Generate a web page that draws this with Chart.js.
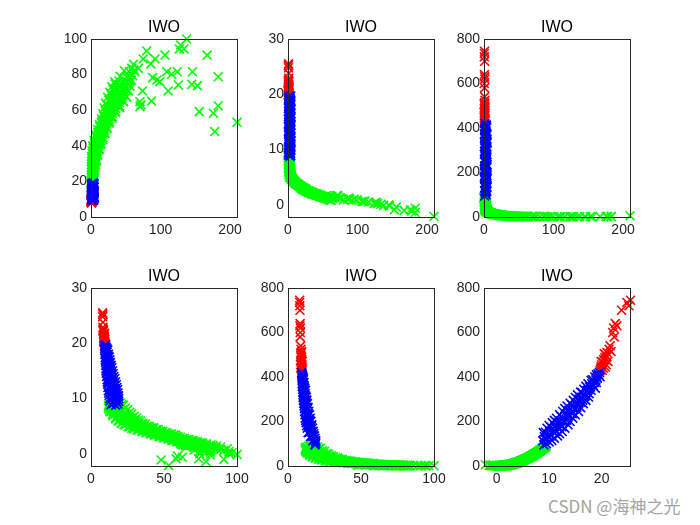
<!DOCTYPE html>
<html>
<head>
<meta charset="utf-8">
<script src="https://cdn.jsdelivr.net/npm/chart.js@4.4.1/dist/chart.umd.min.js"></script>
<style>
  body { margin: 0; background: #fff; }
  #page { position: relative; width: 700px; height: 525px; overflow: hidden; background: #fff; }
  #page canvas { position: absolute; }
  #mark { position: absolute; left: 548px; top: 493px; font-size: 17px; font-family: "Noto Sans CJK SC", sans-serif; color: #a3a3a3; white-space: nowrap; }
</style>
</head>
<body>
<div id="page">
  <div id="mark">CSDN @海神之光</div>
</div>
<script>
// four variables per sample, one set of arrays per cluster colour
// v1: 0..210, v2: 0..100, v3: -2..26, v4: 0..750

var redV1 = [0.8, 0.5, 1.0, 0.6, 1.2, 0.4, 0.9, 1.4, 0.7, 1.1, 0.5, 1.3, 0.8, 1.0, 0.6, 1.2, 0.9,
             0.6, 1.0, 1.3, 0.4, 0.9, 1.1, 0.7, 1.2, 0.5, 0.8, 1.0, 0.6];
var redV2 = [8.0, 8.1, 8.2, 8.3, 8.5, 8.4, 8.7, 8.9, 9.0, 8.8, 9.2, 9.3, 9.1, 9.5, 9.4, 9.7, 9.6,
             8.6, 9.0, 9.4, 8.9, 9.3, 8.6, 9.8, 9.2, 9.5, 8.3, 8.2, 8.0];
var redV3 = [25.5, 25.2, 23.8, 22.6, 22.3, 22.1, 21.6, 21.4, 21.0, 20.8, 20.6, 20.4, 20.2, 20.0, 19.9, 19.8, 19.7,
             20.9, 21.2, 20.1, 20.5, 21.8, 20.3, 19.9, 21.0, 20.7, 22.4, 22.9, 24.8];
var redV4 = [745, 720, 700, 640, 620, 600, 540, 525, 510, 498, 488, 478, 466, 455, 446, 437, 428,
             455, 470, 430, 505, 515, 440, 470, 490, 445, 580, 630, 735];

var blueV1 = [
  1.2, 3.1, 2.0, 4.0, 0.8,
  2.6, 1.0, 3.7, 1.9, 4.3,
  0.7, 2.8, 4.1, 1.6, 3.3,
  3.5, 1.3, 2.4, 0.9, 4.2,
  2.2, 4.0, 0.6, 3.0, 1.7,
  1.1, 3.4, 2.5, 4.4, 0.8,
  3.9, 1.5, 2.9, 0.7, 3.6,
  2.1, 4.2, 1.2, 3.2, 2.6,
  0.9, 3.0, 4.3, 1.8, 3.7,
  2.7, 0.6, 3.5, 2.0, 4.1,
  1.4, 3.8, 2.3, 0.9, 3.1,
  4.0, 1.7, 2.9, 0.8,
  3.6, 1.5, 2.9, 0.9,
  2.3, 4.1, 1.2, 3.0,
  1.8, 3.8, 0.7, 2.6,
  4.3, 2.0, 3.3, 1.0,
  1.3, 3.6, 2.2, 4.0,
  2.8, 0.8, 3.9, 1.9,
  3.4, 1.1, 2.5, 4.2,
  1.6, 3.7, 0.9, 2.9,
  2.4, 4.0, 1.3, 3.3,
  0.7, 2.6, 4.3, 1.9
];
var blueV2 = [
  9.3, 9.6, 9.9, 10.2, 10.5,
  9.5, 10.0, 10.5, 11.0, 11.5,
  9.7, 10.4, 11.1, 11.8, 12.5,
  10.0, 10.8, 11.7, 12.5, 13.3,
  10.2, 11.2, 12.2, 13.2, 14.2,
  10.5, 11.7, 12.9, 14.0, 15.2,
  11.0, 12.3, 13.7, 15.0, 16.3,
  11.4, 12.9, 14.4, 15.8, 17.3,
  11.8, 13.4, 15.0, 16.6, 18.2,
  12.4, 14.0, 15.7, 17.3, 18.9,
  13.2, 14.7, 16.1, 17.6, 19.0,
  13.8, 15.4, 17.0, 18.5,
  9.4, 9.9, 10.5, 11.0,
  9.6, 10.4, 11.2, 12.0,
  9.8, 10.8, 11.9, 12.9,
  10.1, 11.3, 12.6, 13.8,
  10.3, 11.8, 13.2, 14.7,
  10.7, 12.4, 14.0, 15.7,
  11.2, 13.1, 14.9, 16.8,
  11.6, 13.6, 15.7, 17.7,
  12.1, 14.2, 16.4, 18.5,
  12.8, 14.9, 17.0, 19.0
];
var blueV3 = [
  19.6, 19.3, 19.5, 19.7, 19.2,
  18.7, 18.3, 18.6, 18.4, 18.8,
  17.4, 17.7, 17.3, 17.6, 17.5,
  16.6, 16.3, 16.7, 16.4, 16.5,
  15.4, 15.7, 15.5, 15.3, 15.6,
  14.6, 14.3, 14.7, 14.4, 14.5,
  13.4, 13.7, 13.5, 13.3, 13.6,
  12.6, 12.3, 12.7, 12.4, 12.5,
  11.4, 11.7, 11.5, 11.3, 11.6,
  10.6, 10.3, 10.7, 10.4, 10.5,
  9.6, 9.3, 9.7, 9.4, 9.5,
  8.9, 9.1, 8.8, 9.0,
  19.0, 19.1, 18.9, 19.0,
  18.0, 18.1, 17.9, 18.0,
  17.0, 17.1, 16.9, 17.0,
  16.0, 16.1, 15.9, 16.0,
  15.0, 15.1, 14.9, 15.0,
  14.0, 14.1, 13.9, 14.0,
  13.0, 13.1, 12.9, 13.0,
  12.0, 12.1, 11.9, 12.0,
  11.0, 11.1, 10.9, 11.0,
  10.0, 10.1, 9.9, 10.0
];
var blueV4 = [
  420, 414, 408, 401, 395,
  400, 388, 375, 362, 350,
  370, 355, 340, 325, 310,
  345, 329, 312, 296, 280,
  320, 301, 282, 264, 245,
  295, 275, 255, 235, 215,
  270, 249, 228, 206, 185,
  245, 222, 200, 177, 155,
  215, 195, 175, 155, 135,
  195, 175, 155, 135, 115,
  170, 152, 135, 117, 100,
  150, 132, 113, 95,
  410, 398, 387, 375,
  385, 370, 355, 340,
  358, 337, 316, 295,
  332, 309, 285, 262,
  308, 282, 256, 230,
  282, 255, 227, 200,
  258, 229, 199, 170,
  230, 202, 173, 145,
  205, 178, 152, 125,
  182, 157, 133, 108
];

var greenV1 = [
  0.5, 1.3, 2.0, 2.8, 3.5,
  0.7, 1.5, 2.1, 3.0, 3.6,
  0.6, 1.2, 2.2, 2.9, 3.8,
  0.9, 1.6, 2.4, 3.2, 4.0,
  0.5, 1.4, 2.3, 3.1, 4.2,
  0.6, 1.5, 2.5, 3.4, 4.4,
  0.5, 1.6, 2.5, 3.5, 4.5,
  0.5, 1.9, 3.2, 4.6, 6.0,
  0.6, 2.4, 4.2, 6.1, 8.0,
  0.8, 3.0, 5.1, 7.3, 9.5,
  1.5, 4.0, 6.5, 9.0, 11.5,
  2.5, 5.4, 8.2, 11.1, 14.0,
  4.5, 7.6, 10.8, 13.9, 17.0,
  7.0, 10.3, 13.5, 16.8, 20.0,
  9.5, 12.9, 16.2, 19.6, 23.0,
  12.0, 15.5, 19.0, 22.5, 26.0,
  15.0, 18.8, 22.5, 26.3, 30.0,
  17.0, 21.5, 26.0, 30.5, 35.0,
  19.0, 24.5, 30.0, 35.5, 41.0,
  21.0, 27.5, 34.0, 40.5, 47.0,
  24.0, 30.8, 37.5, 44.3, 51.0,
  27.0, 33.8, 40.5, 47.3, 54.0,
  30.0, 36.5, 43.0, 49.5, 56.0,
  34.0, 40.0, 46.0, 52.0, 58.0,
  42.0, 51.0, 60.0,
  48.0, 55.0, 62.0,
  3.3, 5.9, 8.8, 11.5,
  5.0, 7.9, 11.1, 14.1,
  7.3, 10.5, 13.8, 17.0,
  9.8, 13.2, 16.6, 19.9,
  12.4, 15.8, 19.4, 22.8,
  15.2, 18.9, 22.6, 26.3,
  18.0, 22.1, 26.4, 30.5,
  20.4, 25.4, 30.6, 35.6,
  22.9, 28.9, 35.1, 41.1,
  25.7, 32.3, 39.2, 45.8,
  28.7, 35.5, 42.5, 49.3,
  31.7, 38.3, 45.2, 51.8,
  35.0, 41.3, 47.8, 54.0,
  0.9, 1.8, 2.6, 3.3,
  0.5, 1.4, 2.5, 3.4,
  0.8, 1.9, 2.7, 3.7,
  0.6, 1.7, 2.8, 3.9,
  0.8, 1.9, 2.9, 4.0,
  0.7, 1.9, 3.1, 4.3,
  0.8, 2.1, 3.5, 4.9,
  0.9, 2.7, 4.5, 6.4,
  1.2, 3.4, 5.6, 7.8,
  1.8, 4.3, 6.7, 9.2,
  137.6, 129.0, 133.7, 127.0, 80.0, 106.4, 167.0, 75.0, 92.0, 86.0,
  61.0, 58.5, 68.0, 63.0, 109.0, 124.0, 116.0, 146.0, 183.0, 88.7,
  99.0, 95.0, 55.0, 56.0, 125.6, 145.0, 153.0, 74.0, 111.0, 70.5,
  87.0, 70.5, 72.0, 155.7, 176.0, 183.0, 210.0, 178.0
];
var greenV2 = [
  12.3, 11.8, 12.5, 12.0, 12.6,
  14.2, 13.8, 14.5, 14.0, 14.6,
  16.0, 16.5, 15.8, 16.3, 16.8,
  18.1, 17.6, 18.4, 18.0, 18.6,
  20.2, 19.7, 20.5, 20.0, 20.8,
  22.1, 21.7, 22.4, 22.0, 22.6,
  25.0, 24.6, 25.4, 24.8, 25.5,
  27.8, 28.3, 27.6, 28.5, 28.0,
  31.2, 30.7, 31.5, 30.9, 31.4,
  34.0, 34.5, 33.7, 34.3, 34.8,
  37.2, 36.6, 37.4, 37.0, 37.6,
  40.0, 40.5, 39.6, 40.3, 40.8,
  43.1, 42.6, 43.5, 42.9, 43.4,
  46.0, 46.5, 45.7, 46.3, 46.8,
  49.2, 48.7, 49.5, 48.9, 49.6,
  52.0, 52.6, 51.7, 52.3, 52.8,
  55.1, 54.6, 55.5, 54.9, 55.4,
  58.0, 58.5, 57.7, 58.3, 58.8,
  61.2, 60.7, 61.5, 60.9, 61.4,
  64.0, 64.6, 63.7, 64.3, 64.8,
  67.2, 66.7, 67.5, 66.9, 67.4,
  70.0, 70.5, 69.7, 70.3, 70.8,
  73.1, 72.6, 73.4, 72.9, 73.5,
  76.0, 76.4, 75.6, 76.2, 76.8,
  79.0, 78.6, 79.4,
  82.2, 81.7, 82.5,
  38.6, 38.2, 38.9, 38.4,
  41.7, 41.2, 41.9, 41.4,
  44.7, 44.2, 44.9, 44.4,
  47.6, 47.2, 47.9, 47.4,
  50.7, 50.2, 50.9, 50.4,
  53.6, 53.2, 53.9, 53.4,
  56.7, 56.2, 56.9, 56.4,
  59.7, 59.2, 59.9, 59.4,
  62.7, 62.2, 62.9, 62.4,
  65.7, 65.2, 65.9, 65.4,
  68.7, 68.2, 68.9, 68.4,
  71.7, 71.2, 71.9, 71.4,
  74.7, 74.2, 74.9, 74.4,
  13.1, 12.9, 13.3, 13.0,
  15.1, 14.9, 15.3, 15.0,
  17.2, 16.9, 17.3, 17.0,
  19.1, 18.9, 19.3, 19.0,
  21.2, 20.9, 21.3, 21.0,
  23.6, 23.2, 23.8, 23.4,
  26.7, 26.3, 26.9, 26.5,
  29.7, 29.2, 29.9, 29.4,
  32.7, 32.2, 32.9, 32.4,
  35.7, 35.2, 35.9, 35.4,
  100.0, 96.6, 94.4, 94.4, 93.3, 91.0, 91.0, 88.8, 88.8, 86.0,
  85.8, 83.5, 83.5, 81.6, 81.6, 81.6, 80.2, 81.6, 78.8, 78.3,
  76.0, 77.0, 78.8, 76.0, 74.2, 74.5, 73.8, 70.8, 70.8, 64.8,
  65.2, 62.0, 63.0, 59.2, 58.3, 62.5, 53.2, 48.0
];
var greenV3 = [
  9.0, 8.7, 8.5, 8.3, 8.0,
  9.3, 8.8, 8.2, 7.7, 7.2,
  9.4, 8.7, 7.9, 7.2, 6.5,
  9.4, 8.6, 7.7, 6.9, 6.0,
  9.2, 8.3, 7.4, 6.5, 5.6,
  8.8, 7.9, 7.0, 6.2, 5.3,
  8.0, 7.2, 6.4, 5.6, 4.9,
  7.2, 6.6, 5.9, 5.3, 4.6,
  6.5, 6.0, 5.4, 4.9, 4.3,
  5.9, 5.5, 5.0, 4.6, 4.1,
  5.4, 5.0, 4.6, 4.2, 3.8,
  5.0, 4.7, 4.3, 3.9, 3.6,
  4.7, 4.4, 4.0, 3.7, 3.4,
  4.4, 4.0, 3.7, 3.4, 3.1,
  4.1, 3.8, 3.5, 3.2, 2.9,
  3.8, 3.5, 3.2, 3.0, 2.7,
  3.6, 3.3, 3.0, 2.7, 2.4,
  3.4, 3.1, 2.8, 2.5, 2.2,
  3.0, 2.7, 2.5, 2.2, 1.9,
  2.8, 2.5, 2.3, 2.0, 1.7,
  2.6, 2.3, 2.1, 1.8, 1.5,
  2.4, 2.1, 1.9, 1.6, 1.3,
  2.2, 1.9, 1.7, 1.4, 1.1,
  2.0, 1.8, 1.5, 1.3, 1.0,
  1.8, 1.4, 0.9,
  1.6, 1.2, 0.8,
  5.0, 4.6, 4.3, 3.9,
  4.7, 4.3, 4.0, 3.7,
  4.4, 4.1, 3.7, 3.4,
  4.1, 3.8, 3.5, 3.2,
  3.8, 3.5, 3.2, 2.9,
  3.6, 3.3, 3.0, 2.7,
  3.4, 3.1, 2.7, 2.4,
  3.1, 2.8, 2.5, 2.2,
  2.8, 2.5, 2.2, 1.9,
  2.6, 2.3, 2.0, 1.7,
  2.4, 2.1, 1.8, 1.5,
  2.2, 1.9, 1.6, 1.3,
  2.0, 1.7, 1.4, 1.2,
  9.1, 8.6, 8.1, 7.6,
  9.3, 8.5, 7.7, 6.9,
  9.3, 8.3, 7.3, 6.3,
  9.2, 8.1, 7.0, 5.9,
  8.9, 7.8, 6.6, 5.5,
  8.3, 7.3, 6.2, 5.2,
  7.5, 6.6, 5.7, 4.9,
  6.8, 6.0, 5.3, 4.5,
  6.1, 5.5, 4.9, 4.3,
  5.5, 5.0, 4.5, 4.1,
  -0.1, 0.2, 0.1, 0.4, 0.9, 0.6, -1.0, 1.2, 0.8, 1.0,
  1.4, 1.5, 1.3, 1.5, 0.6, 0.3, 0.5, -0.2, -1.4, 1.1,
  0.9, 1.0, 1.6, 1.7, 0.4, 0.0, -0.9, 1.3, 0.7, 1.5,
  1.2, 1.7, 1.6, -0.4, -0.9, -0.6, -2.1, -1.1
];
var greenV4 = [
  84, 78, 74, 70, 65,
  90, 80, 70, 60, 53,
  92, 78, 64, 54, 44,
  90, 76, 61, 49, 38,
  86, 71, 57, 44, 33,
  80, 64, 51, 40, 29,
  66, 54, 43, 33, 25,
  53, 45, 36, 29, 22,
  43, 37, 30, 25, 19,
  36, 31, 26, 22, 17,
  30, 26, 21, 18, 15,
  25, 22, 19, 16, 13,
  22, 19, 16, 14, 12,
  19, 16, 14, 12, 10,
  17, 14, 12, 10, 8,
  14, 12, 10, 9, 7,
  13, 11, 9, 7, 6,
  11, 10, 8, 6, 5,
  9, 7, 6, 5, 4,
  8, 6, 5, 4, 3,
  7, 5, 4, 3, 2,
  6, 5, 4, 3, 2,
  5, 4, 3, 2, 2,
  4, 3, 3, 2, 2,
  3, 2, 1,
  3, 2, 1,
  25, 21, 18, 15,
  22, 19, 16, 13,
  19, 17, 14, 12,
  17, 14, 12, 10,
  14, 12, 10, 8,
  13, 11, 9, 7,
  11, 10, 8, 6,
  9, 8, 6, 5,
  8, 6, 5, 4,
  7, 5, 4, 3,
  6, 4, 3, 2,
  5, 4, 3, 2,
  4, 3, 2, 2,
  83, 74, 66, 58,
  87, 72, 59, 48,
  86, 69, 54, 40,
  85, 66, 49, 35,
  79, 61, 44, 30,
  69, 53, 39, 27,
  56, 44, 33, 24,
  46, 36, 28, 20,
  37, 30, 24, 18,
  30, 25, 20, 17,
  1, 1, 1, 1, 2, 1, 2, 2, 1, 2,
  2, 2, 2, 2, 1, 1, 1, 1, 3, 2,
  1, 2, 3, 3, 1, 1, 2, 2, 1, 2,
  2, 3, 3, 1, 2, 1, 6, 2
];

// tick labels
var ticksV1 = [0, 100, 200];
var ticksV2y = [0, 20, 40, 60, 80, 100];
var ticksV2x = [0, 50, 100];
var ticksV3y = [0, 10, 20, 30];
var ticksV3x = [0, 10, 20];
var ticksV4 = [0, 200, 400, 600, 800];

var red = { v1: redV1, v2: redV2, v3: redV3, v4: redV4 };
var blue = { v1: blueV1, v2: blueV2, v3: blueV3, v4: blueV4 };
var green = { v1: greenV1, v2: greenV2, v3: greenV3, v4: greenV4 };

[red, blue, green].forEach(function (g) {
    if (g.v1.length !== g.v2.length || g.v1.length !== g.v3.length || g.v1.length !== g.v4.length) {
        throw new Error('length mismatch ' + [g.v1.length, g.v2.length, g.v3.length, g.v4.length].join(','));
    }
});

// x var, y var, x range, y range, x ticks, y ticks
var panels = [
    ['v1', 'v2', [0, 210], [0, 100], ticksV1, ticksV2y],
    ['v1', 'v3', [0, 210], [-2.2, 30], ticksV1, ticksV3y],
    ['v1', 'v4', [0, 210], [0, 800], ticksV1, ticksV4],
    ['v2', 'v3', [0, 100], [-2.2, 30], ticksV2x, ticksV3y],
    ['v2', 'v4', [0, 100], [0, 800], ticksV2x, ticksV4],
    ['v3', 'v4', [-2.4, 25.4], [0, 800], ticksV3x, ticksV4]
];

// axes box positions on the page (MATLAB subplot 2x3)
var boxLeft = [91, 288, 484];
var boxTop = [39, 288];
var BOX_W = 146, BOX_H = 178;
var Y_AXIS_W = 50, TITLE_H = 30, X_AXIS_H = 30, PAD_R = 20;

var frame = {
    id: 'frame',
    afterDraw: function (chart) {
        var a = chart.chartArea;
        var ctx = chart.ctx;
        ctx.save();
        ctx.strokeStyle = '#262626';
        ctx.lineWidth = 1;
        ctx.strokeRect(Math.round(a.left) + 0.5, Math.round(a.top) + 0.5, Math.round(a.right - a.left), Math.round(a.bottom - a.top));
        ctx.restore();
    }
};

function toPoints(g, xk, yk) {
    return g[xk].map(function (x, i) { return { x: x, y: g[yk][i] }; });
}

function makeDataset(g, color, xk, yk) {
    return {
        data: toPoints(g, xk, yk),
        pointStyle: 'crossRot',
        pointRadius: 6.3,
        pointBorderWidth: 1.6,
        pointBorderColor: color,
        pointBackgroundColor: color,
        borderColor: color,
        showLine: false,
        clip: false
    };
}

var tickFont = { family: '"Liberation Sans", Arial, sans-serif', size: 14 };

panels.forEach(function (p, k) {
    var col = k % 3, row = Math.floor(k / 3);
    var canvas = document.createElement('canvas');
    canvas.width = Y_AXIS_W + BOX_W + PAD_R;
    canvas.height = TITLE_H + BOX_H + X_AXIS_H;
    canvas.style.left = (boxLeft[col] - Y_AXIS_W) + 'px';
    canvas.style.top = (boxTop[row] - TITLE_H) + 'px';
    document.getElementById('page').appendChild(canvas);

    var xk = p[0], yk = p[1];
    new Chart(canvas.getContext('2d'), {
        type: 'scatter',
        data: {
            // first dataset is drawn on top
            datasets: [
                makeDataset(blue, '#0000ff', xk, yk),
                makeDataset(red, '#ff0000', xk, yk),
                makeDataset(green, '#00ff00', xk, yk)
            ]
        },
        options: {
            responsive: false,
            animation: false,
            events: [],
            layout: { padding: { left: 0, right: PAD_R, top: 0, bottom: 0 } },
            plugins: {
                legend: { display: false },
                tooltip: { enabled: false },
                title: {
                    display: true,
                    fullSize: false,
                    text: 'IWO',
                    color: '#000000',
                    font: { family: '"Liberation Sans", Arial, sans-serif', size: 16, weight: 'normal', lineHeight: 1.2 },
                    padding: { top: 9, bottom: 1.8 }
                }
            },
            scales: {
                x: {
                    type: 'linear',
                    min: p[2][0],
                    max: p[2][1],
                    bounds: 'data',
                    grid: { display: false, drawTicks: false },
                    border: { display: false },
                    ticks: { color: '#262626', font: tickFont, padding: 5, autoSkip: false, maxRotation: 0 },
                    afterBuildTicks: function (s) { s.ticks = p[4].map(function (v) { return { value: v }; }); },
                    afterFit: function (s) { s.height = X_AXIS_H; }
                },
                y: {
                    type: 'linear',
                    min: p[3][0],
                    max: p[3][1],
                    bounds: 'data',
                    grid: { display: false, drawTicks: false },
                    border: { display: false },
                    ticks: { color: '#262626', font: tickFont, padding: 4, autoSkip: false },
                    afterBuildTicks: function (s) { s.ticks = p[5].map(function (v) { return { value: v }; }); },
                    afterFit: function (s) { s.width = Y_AXIS_W; }
                }
            }
        },
        plugins: [frame]
    });
});
</script>
</body>
</html>
